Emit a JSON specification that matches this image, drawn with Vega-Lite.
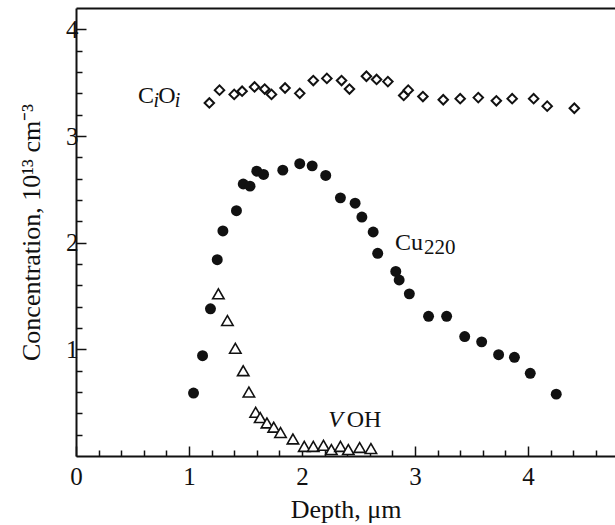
{
  "$schema": "https://vega.github.io/schema/vega-lite/v6.json",
  "width": 539,
  "height": 448,
  "autosize": {"type": "none"},
  "padding": {"left": 76, "top": 8, "right": 0, "bottom": 69},
  "background": "white",
  "config": {
    "view": {"stroke": null},
    "font": "Liberation Serif",
    "axis": {"domainColor": "#111", "tickColor": "#111", "labelColor": "#111", "titleColor": "#111", "grid": false, "labelFont": "Liberation Serif", "titleFont": "Liberation Serif", "titleFontWeight": "normal"}
  },
  "datasets": {
    "cu": [
      {"depth": 1.04, "conc": 0.59}, {"depth": 1.12, "conc": 0.94}, {"depth": 1.19, "conc": 1.38},
      {"depth": 1.25, "conc": 1.84}, {"depth": 1.30, "conc": 2.11}, {"depth": 1.42, "conc": 2.30},
      {"depth": 1.48, "conc": 2.55}, {"depth": 1.54, "conc": 2.53}, {"depth": 1.60, "conc": 2.67},
      {"depth": 1.66, "conc": 2.64}, {"depth": 1.83, "conc": 2.68}, {"depth": 1.98, "conc": 2.74},
      {"depth": 2.09, "conc": 2.72}, {"depth": 2.21, "conc": 2.63}, {"depth": 2.34, "conc": 2.42},
      {"depth": 2.47, "conc": 2.37}, {"depth": 2.53, "conc": 2.24}, {"depth": 2.63, "conc": 2.10},
      {"depth": 2.67, "conc": 1.90}, {"depth": 2.83, "conc": 1.73}, {"depth": 2.86, "conc": 1.65},
      {"depth": 2.95, "conc": 1.52}, {"depth": 3.12, "conc": 1.31}, {"depth": 3.28, "conc": 1.31},
      {"depth": 3.44, "conc": 1.12}, {"depth": 3.59, "conc": 1.07}, {"depth": 3.74, "conc": 0.95},
      {"depth": 3.88, "conc": 0.925}, {"depth": 4.02, "conc": 0.775}, {"depth": 4.25, "conc": 0.58}
    ],
    "voh": [
      {"depth": 1.26, "conc": 1.52}, {"depth": 1.34, "conc": 1.27}, {"depth": 1.41, "conc": 1.01},
      {"depth": 1.48, "conc": 0.80}, {"depth": 1.53, "conc": 0.60}, {"depth": 1.59, "conc": 0.41},
      {"depth": 1.63, "conc": 0.36}, {"depth": 1.69, "conc": 0.31}, {"depth": 1.75, "conc": 0.27},
      {"depth": 1.81, "conc": 0.22}, {"depth": 1.92, "conc": 0.16}, {"depth": 2.02, "conc": 0.09},
      {"depth": 2.10, "conc": 0.09}, {"depth": 2.19, "conc": 0.10}, {"depth": 2.26, "conc": 0.06},
      {"depth": 2.34, "conc": 0.09}, {"depth": 2.41, "conc": 0.06}, {"depth": 2.51, "conc": 0.08},
      {"depth": 2.61, "conc": 0.07}
    ],
    "cioi": [
      {"depth": 1.18, "conc": 3.31}, {"depth": 1.27, "conc": 3.43}, {"depth": 1.40, "conc": 3.39},
      {"depth": 1.47, "conc": 3.42}, {"depth": 1.58, "conc": 3.46}, {"depth": 1.67, "conc": 3.44},
      {"depth": 1.73, "conc": 3.39}, {"depth": 1.85, "conc": 3.45}, {"depth": 1.98, "conc": 3.40},
      {"depth": 2.10, "conc": 3.52}, {"depth": 2.22, "conc": 3.54}, {"depth": 2.35, "conc": 3.52},
      {"depth": 2.42, "conc": 3.44}, {"depth": 2.57, "conc": 3.56}, {"depth": 2.66, "conc": 3.53},
      {"depth": 2.76, "conc": 3.51}, {"depth": 2.90, "conc": 3.38}, {"depth": 2.94, "conc": 3.43},
      {"depth": 3.07, "conc": 3.37}, {"depth": 3.25, "conc": 3.34}, {"depth": 3.40, "conc": 3.35},
      {"depth": 3.56, "conc": 3.36}, {"depth": 3.72, "conc": 3.33}, {"depth": 3.86, "conc": 3.35},
      {"depth": 4.05, "conc": 3.35}, {"depth": 4.17, "conc": 3.28}, {"depth": 4.41, "conc": 3.26}
    ],
    "labelMain": [
      {"text": "C", "depth": 0.549, "conc": 3.306},
      {"text": "O", "depth": 0.728, "conc": 3.306},
      {"text": "Cu", "depth": 2.823, "conc": 1.931},
      {"text": "OH", "depth": 2.396, "conc": 0.275}
    ],
    "labelItalic": [
      {"text": "V", "depth": 2.233, "conc": 0.275}
    ],
    "labelSubItalic": [
      {"text": "i", "depth": 0.685, "conc": 3.27},
      {"text": "i", "depth": 0.875, "conc": 3.27}
    ],
    "labelSub": [
      {"text": "220", "depth": 3.08, "conc": 1.89}
    ]
  },
  "resolve": {"scale": {"x": "shared", "y": "shared"}, "axis": {"x": "independent", "y": "independent"}},
  "layer": [
    {
      "data": {"name": "voh"},
      "mark": {"type": "point", "shape": "triangle-up", "size": 130, "filled": false, "stroke": "#111", "strokeWidth": 1.6, "fill": "white", "fillOpacity": 1},
      "encoding": {
        "x": {"field": "depth", "type": "quantitative", "scale": {"domain": [0, 4.77], "nice": false, "zero": false},
              "axis": {"orient": "bottom", "values": [0.2,0.4,0.6,0.8,1.2,1.4,1.6,1.8,2.2,2.4,2.6,2.8,3.2,3.4,3.6,3.8,4.2,4.4,4.6], "labels": false, "domain": false, "tickSize": -6, "tickWidth": 1.5, "title": null}},
        "y": {"field": "conc", "type": "quantitative", "scale": {"domain": [0, 4.2], "nice": false, "zero": false},
              "axis": {"orient": "left", "values": [0.2,0.4,0.6,0.8,1.2,1.4,1.6,1.8,2.2,2.4,2.6,2.8,3.2,3.4,3.6,3.8], "labels": false, "domain": false, "tickSize": -6, "tickWidth": 1.5, "title": null}}
      }
    },
    {
      "data": {"name": "cioi"},
      "mark": {"type": "point", "shape": "diamond", "size": 90, "filled": false, "stroke": "#111", "strokeWidth": 2, "fill": "white", "fillOpacity": 1},
      "encoding": {
        "x": {"field": "depth", "type": "quantitative", "scale": {"domain": [0, 4.77], "nice": false, "zero": false},
              "axis": {"orient": "top", "labels": false, "ticks": false, "domain": true, "domainWidth": 2, "title": null}},
        "y": {"field": "conc", "type": "quantitative", "scale": {"domain": [0, 4.2], "nice": false, "zero": false}, "axis": null}
      }
    },
    {
      "data": {"name": "cu"},
      "mark": {"type": "circle", "size": 120, "color": "#111", "opacity": 1},
      "encoding": {
        "x": {"field": "depth", "type": "quantitative", "scale": {"domain": [0, 4.77], "nice": false, "zero": false},
              "axis": {"orient": "bottom", "values": [0, 1, 2, 3, 4], "format": "d", "tickSize": -10, "tickWidth": 1.5, "domainWidth": 2, "labelFontSize": 25, "labelPadding": 18, "labelFlush": false, "title": "Depth, μm", "titleFontSize": 26, "titlePadding": 7}},
        "y": {"field": "conc", "type": "quantitative", "scale": {"domain": [0, 4.2], "nice": false, "zero": false},
              "axis": {"orient": "left", "values": [1, 2, 3, 4], "format": "d", "tickSize": -10, "tickWidth": 1.5, "domainWidth": 2, "labelFontSize": 25, "labelPadding": 8, "title": "Concentration, 10¹³ cm⁻³\u00a0\u00a0\u00a0\u00a0\u00a0\u00a0\u00a0\u00a0\u00a0", "titleFontSize": 26, "titleX": -32, "titleLimit": 0}}
      }
    },
    {
      "data": {"name": "labelMain"},
      "mark": {"type": "text", "align": "left", "baseline": "alphabetic", "font": "Liberation Serif", "fontSize": 24, "color": "#111"},
      "encoding": {
        "x": {"field": "depth", "type": "quantitative", "axis": null},
        "y": {"field": "conc", "type": "quantitative", "axis": null},
        "text": {"field": "text"}
      }
    },
    {
      "data": {"name": "labelItalic"},
      "mark": {"type": "text", "align": "left", "baseline": "alphabetic", "font": "Liberation Serif", "fontStyle": "italic", "fontSize": 24, "color": "#111"},
      "encoding": {
        "x": {"field": "depth", "type": "quantitative", "axis": null},
        "y": {"field": "conc", "type": "quantitative", "axis": null},
        "text": {"field": "text"}
      }
    },
    {
      "data": {"name": "labelSubItalic"},
      "mark": {"type": "text", "align": "left", "baseline": "alphabetic", "font": "Liberation Serif", "fontStyle": "italic", "fontSize": 20, "color": "#111"},
      "encoding": {
        "x": {"field": "depth", "type": "quantitative", "axis": null},
        "y": {"field": "conc", "type": "quantitative", "axis": null},
        "text": {"field": "text"}
      }
    },
    {
      "data": {"name": "labelSub"},
      "mark": {"type": "text", "align": "left", "baseline": "alphabetic", "font": "Liberation Serif", "fontSize": 21, "color": "#111"},
      "encoding": {
        "x": {"field": "depth", "type": "quantitative", "axis": null},
        "y": {"field": "conc", "type": "quantitative", "axis": null},
        "text": {"field": "text"}
      }
    }
  ]
}
